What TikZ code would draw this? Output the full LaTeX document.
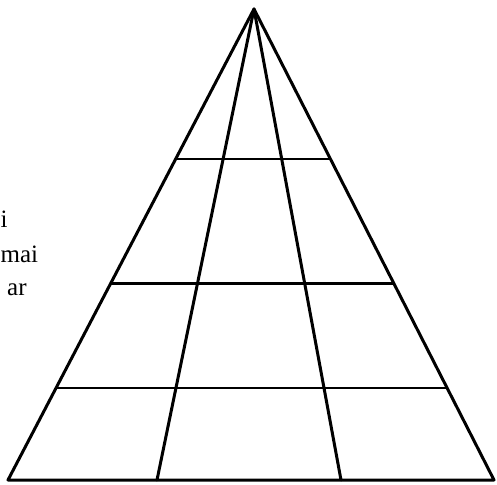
\documentclass[tikz,border=0pt]{standalone}
\usepackage{fontspec}
\setmainfont{Liberation Serif}
\usetikzlibrary{calc}
\tikzset{
  edge/.style={line width=3pt,line cap=round,line join=round},
  rung/.style={line width=2.2pt},
  scrap/.style={inner sep=0pt,anchor=base west,font=\fontsize{25}{34}\selectfont}
}

\begin{document}
\begin{tikzpicture}[x=1pt,y=-1pt]
  \useasboundingbox (0,0) rectangle (497,484);
  \coordinate (apex) at (254,9);
  \coordinate (bl) at (8,480);
  \coordinate (br) at (494,480);
  \coordinate (ml) at (157,480);
  \coordinate (mr) at (341,480);
  % rungs
  \foreach \t in {0.318,0.583,0.805}
    \draw[rung] ($(apex)!\t!(bl)$) -- ($(apex)!\t!(br)$);
  \draw[edge] (bl) -- (apex) -- (br) -- cycle;
  \draw[edge] (apex) -- (ml);
  \draw[edge] (apex) -- (mr);
  % text left of the triangle
  \node[scrap] (txti) at (0.5,227) {i};
  \node[scrap] (txtmai) at (0.5,262) {mai};
  \node[scrap] (txtar) at (7,295) {ar};
\end{tikzpicture}
\end{document}
